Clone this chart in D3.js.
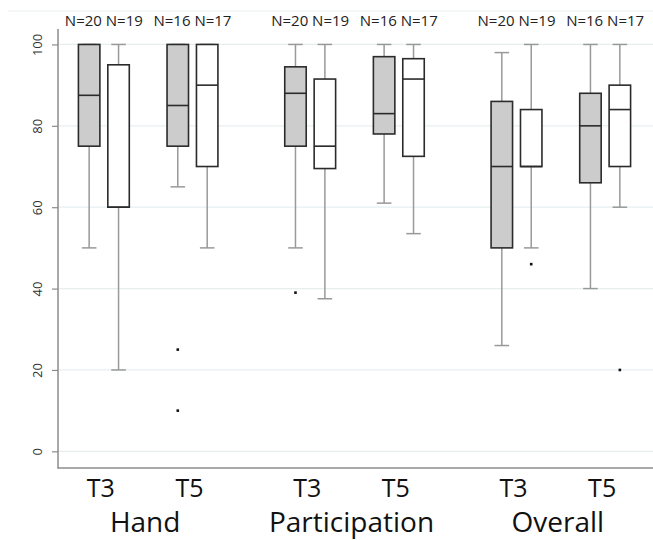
<!DOCTYPE html>
<html>
<head>
<meta charset="utf-8">
<script src="https://cdn.jsdelivr.net/npm/d3@7"></script>
<style>
  body { margin: 0; background: #fff; }
  text { font-family: "Open Sans", sans-serif; }
</style>
</head>
<body>
<svg width="653" height="540"></svg>
<script>
// measures and time points
var measures = ["Hand", "Participation", "Overall"]
var times = ["T3", "T5"]
var series = ["gray", "white"]
var yTicks = [0, 20, 40, 60, 80, 100]

// box stats per measure/time, order: gray box then white box
// [whiskerLow, q1, median, q3, whiskerHigh]
var handT3 = [[50, 75, 87.5, 100, 100], [20, 60, 60, 95, 100]]
var handT5 = [[65, 75, 85, 100, 100], [50, 70, 90, 100, 100]]
var partT3 = [[50, 75, 88, 94.5, 100], [37.5, 69.5, 75, 91.5, 100]]
var partT5 = [[61, 78, 83, 97, 100], [53.5, 72.5, 91.5, 96.5, 100]]
var overT3 = [[26, 50, 70, 86, 98], [50, 70, 70, 84, 100]]
var overT5 = [[40, 66, 80, 88, 100], [60, 70, 84, 90, 100]]

// outliers: [measure, time, series index, value]
var outliers = [
    ["Hand", "T5", 0, 25], ["Hand", "T5", 0, 10],
    ["Participation", "T3", 0, 39],
    ["Overall", "T3", 1, 46],
    ["Overall", "T5", 1, 20]
]

var nLabels = [
    ["Hand", "T3", "N=20 N=19"], ["Hand", "T5", "N=16 N=17"],
    ["Participation", "T3", "N=20 N=19"], ["Participation", "T5", "N=16 N=17"],
    ["Overall", "T3", "N=20 N=19"], ["Overall", "T5", "N=16 N=17"]
]

var stats = {
    "Hand": { "T3": handT3, "T5": handT5 },
    "Participation": { "T3": partT3, "T5": partT5 },
    "Overall": { "T3": overT3, "T5": overT5 }
}

var svg = d3.select("svg")
var plotLeft = 58, plotRight = 653, plotTop = 29, plotBottom = 468

var xg = d3.scaleBand().domain(measures).range([45, 664]).paddingInner(0).paddingOuter(0)
var xt = d3.scaleBand().domain(times).range([0, xg.bandwidth()]).paddingInner(0).paddingOuter(0.164)
var xs = d3.scaleBand().domain(series).range([0, xt.bandwidth()]).paddingInner(0.27).paddingOuter(0.642)
var y = d3.scaleLinear().domain([-4.1, 103.8]).range([plotBottom, plotTop])

function pairCenter(m, t) { return xg(m) + xt(t) + xt.bandwidth() / 2 }
function boxX(m, t, i) { return xg(m) + xt(t) + xs(series[i]) }

// faint frame line at the top
svg.append("line")
    .attr("x1", 8).attr("x2", plotRight).attr("y1", 11).attr("y2", 11)
    .attr("stroke", "#e8eff0").attr("stroke-width", 1)

// gridlines
svg.append("g").selectAll("line").data(yTicks).enter().append("line")
    .attr("x1", plotLeft).attr("x2", plotRight)
    .attr("y1", function (d) { return y(d) }).attr("y2", function (d) { return y(d) })
    .attr("stroke", "#e6eff0").attr("stroke-width", 1.2)

// y axis
var yAxis = svg.append("g")
    .attr("transform", "translate(" + plotLeft + ",0)")
    .call(d3.axisLeft(y).tickValues(yTicks).tickSize(6).tickPadding(0).tickSizeOuter(0))
yAxis.select(".domain").attr("stroke", "#8c8c8c").attr("stroke-width", 1.5)
    .attr("d", "M0," + plotTop + "V" + plotBottom)
yAxis.selectAll(".tick line").attr("stroke", "#8c8c8c").attr("stroke-width", 1.2)
yAxis.selectAll(".tick text")
    .attr("x", 0).attr("dy", 0)
    .attr("transform", "translate(-16,0) rotate(-90)")
    .attr("text-anchor", "middle")
    .attr("fill", "#333")
    .style("font-size", "13px")
    .style("font-family", "Open Sans, sans-serif")

// x axis line
svg.append("line")
    .attr("x1", plotLeft - 0.75).attr("x2", plotRight).attr("y1", plotBottom).attr("y2", plotBottom)
    .attr("stroke", "#8c8c8c").attr("stroke-width", 1.5)

// boxes
var bw = xs.bandwidth()
measures.forEach(function (m) {
    times.forEach(function (t) {
        stats[m][t].forEach(function (s, i) {
            var x0 = boxX(m, t, i), cx = x0 + bw / 2, cap = bw * 0.34
            var g = svg.append("g")
            // whiskers
            g.append("line").attr("x1", cx).attr("x2", cx)
                .attr("y1", y(s[0])).attr("y2", y(s[1]))
                .attr("stroke", "#999").attr("stroke-width", 1.5)
            g.append("line").attr("x1", cx).attr("x2", cx)
                .attr("y1", y(s[3])).attr("y2", y(s[4]))
                .attr("stroke", "#999").attr("stroke-width", 1.5)
            g.append("line").attr("x1", cx - cap).attr("x2", cx + cap)
                .attr("y1", y(s[0])).attr("y2", y(s[0]))
                .attr("stroke", "#999").attr("stroke-width", 1.5)
            g.append("line").attr("x1", cx - cap).attr("x2", cx + cap)
                .attr("y1", y(s[4])).attr("y2", y(s[4]))
                .attr("stroke", "#999").attr("stroke-width", 1.5)
            // box
            g.append("rect")
                .attr("x", x0).attr("width", bw)
                .attr("y", y(s[3])).attr("height", y(s[1]) - y(s[3]))
                .attr("fill", i == 0 ? "#cccccc" : "#ffffff")
                .attr("stroke", "#2b2b2b").attr("stroke-width", 1.6)
            g.append("line").attr("x1", x0).attr("x2", x0 + bw)
                .attr("y1", y(s[2])).attr("y2", y(s[2]))
                .attr("stroke", "#2b2b2b").attr("stroke-width", 1.6)
        })
    })
})

// outliers
svg.append("g").selectAll("rect").data(outliers).enter().append("rect")
    .attr("x", function (d) { return boxX(d[0], d[1], d[2]) + bw / 2 - 1.3 })
    .attr("y", function (d) { return y(d[3]) - 1.3 })
    .attr("width", 2.6).attr("height", 2.6)
    .attr("fill", "#111")

// N labels
svg.append("g").selectAll("text").data(nLabels).enter().append("text")
    .attr("x", function (d) { return pairCenter(d[0], d[1]) })
    .attr("y", 26)
    .attr("text-anchor", "middle")
    .attr("fill", "#222")
    .style("font-size", "15px")
    .text(function (d) { return d[2] })

// time labels
measures.forEach(function (m) {
    times.forEach(function (t) {
        svg.append("text")
            .attr("x", pairCenter(m, t) - 3)
            .attr("y", 497)
            .attr("text-anchor", "middle")
            .attr("fill", "#111")
            .style("font-size", "25px")
            .text(t)
    })
})

// measure labels
svg.append("g").selectAll("text").data(measures).enter().append("text")
    .attr("x", function (d) { return xg(d) + xg.bandwidth() / 2 - 3 })
    .attr("y", 532)
    .attr("text-anchor", "middle")
    .attr("fill", "#111")
    .style("font-size", "28px")
    .text(function (d) { return d })
</script>
</body>
</html>
